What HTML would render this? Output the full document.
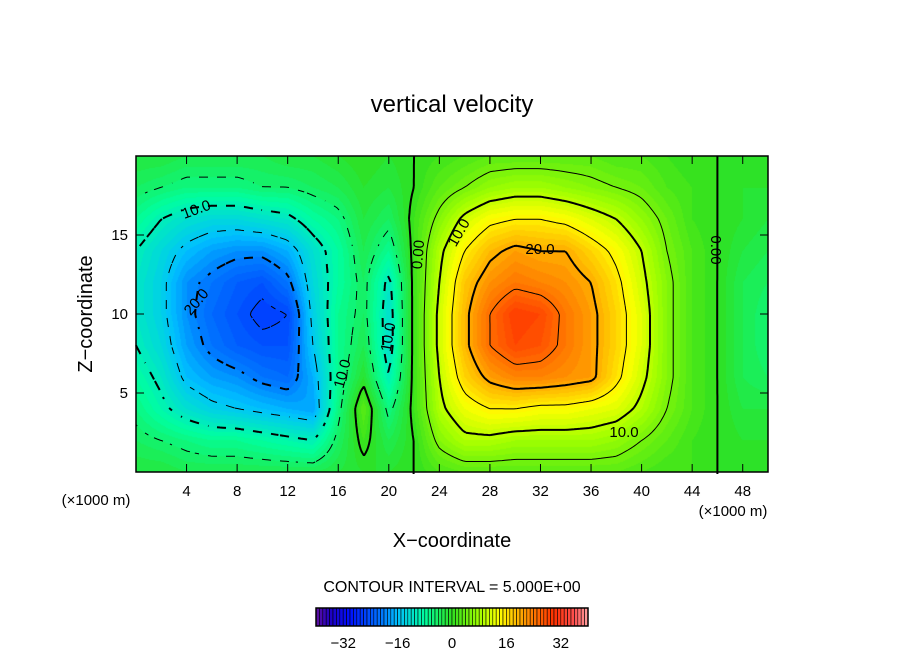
<!DOCTYPE html>
<html><head><meta charset="utf-8"><style>
body{margin:0;background:#fff;font-family:"Liberation Sans",sans-serif}
#wrap{position:relative;width:904px;height:654px}
canvas{position:absolute;left:136px;top:156px}
svg{position:absolute;left:0;top:0}
text{font-family:"Liberation Sans",sans-serif;fill:#000}
</style></head><body>
<div id="wrap">
<canvas id="cv" width="632" height="316"></canvas>
<svg id="sv" width="904" height="654">
<text x="452" y="112" text-anchor="middle" font-size="24">vertical velocity</text>
<text x="452" y="547" text-anchor="middle" font-size="20">X−coordinate</text>
<text transform="translate(92,314) rotate(-90)" text-anchor="middle" font-size="20">Z−coordinate</text>
<text x="96" y="505" text-anchor="middle" font-size="15">(×1000 m)</text>
<text x="733" y="516" text-anchor="middle" font-size="15">(×1000 m)</text>
<text x="452" y="592" text-anchor="middle" font-size="16">CONTOUR INTERVAL = 5.000E+00</text>
<g id="contours"></g>
<g font-size="15">
<text x="198" y="214" text-anchor="middle" transform="rotate(-20 198 214)">10.0</text>
<text x="200" y="305" text-anchor="middle" transform="rotate(-50 200 305)">20.0</text>
<text x="347" y="375" text-anchor="middle" transform="rotate(-75 347 375)">10.0</text>
<text x="393" y="338" text-anchor="middle" transform="rotate(-80 393 338)">10.0</text>
<text x="423" y="255" text-anchor="middle" transform="rotate(-85 423 255)">0.00</text>
<text x="463" y="235" text-anchor="middle" transform="rotate(-60 463 235)">10.0</text>
<text x="540" y="254" text-anchor="middle">20.0</text>
<text x="624" y="437" text-anchor="middle">10.0</text>
<text x="711" y="250" text-anchor="middle" transform="rotate(90 711 250)">0.00</text>
</g>
<g id="axes"></g>
<g id="cbar"></g>
</svg>
</div>
<script>
const xCoords=[0,2,4,6,8,10,12,14,16,18,20,22,24,26,28,30,32,34,36,38,40,42,44,46,48,50];
const zCoords=[0,2,4,6,8,10,12,14,16,18,20];
const wRows=[
[-2,-2,-3,-3,-3,-3,-3,-3,-2,-1,-1,0,2,3,3,3,3,3,3,3,2,1,1,0,-1,-1],
[-4,-5,-6,-7,-7,-8,-9,-10,-4,1,-3,0,6,9,9,8,8,8,8,7,5,3,1,0,-1,-1],
[-6,-9,-12,-14,-15,-16,-17,-18,-6,3,-6,1,9,13,15,15,14,14,13,12,9,5,2,0,-2,-2],
[-8,-11,-16,-18,-19,-21,-22,-17,-7,-1,-10,1,10,17,21,23,23,22,21,16,11,6,2,0,-3,-4],
[-10,-13,-18,-21,-23,-24,-24,-15,-7,-3,-12,1,11,19,25,28,27,24,21,17,12,6,2,0,-3,-5],
[-11,-14,-19,-22,-24,-26,-25,-14,-7,-4,-12,1,11,19,25,29,28,24,21,17,12,6,2,0,-3,-5],
[-11,-14,-19,-21,-23,-24,-21,-13,-8,-4,-11,1,10,18,22,24,23,22,20,16,11,6,2,0,-3,-4],
[-10,-13,-16,-18,-19,-19,-17,-12,-8,-3,-7,1,9,15,19,21,20,20,17,14,10,5,2,0,-2,-3],
[-7,-10,-12,-13,-13,-12,-11,-8,-6,-2,-4,1,6,11,14,15,15,14,12,10,7,4,1,0,-1,-2],
[-4,-5,-6,-6,-6,-5,-5,-4,-3,-1,-2,0,3,5,7,8,8,7,6,5,4,2,1,0,-1,-1],
[-2,-2,-3,-3,-3,-3,-2,-2,-1,0,-1,0,1,2,3,3,3,3,3,2,2,1,0,0,0,0]];
const xTicks=[4,8,12,16,20,24,28,32,36,40,44,48];
const zTicks=[5,10,15];
const cbTicks=[-32,-16,0,16,32];
const levels=[-25,-20,-15,-10,-5,0,5,10,15,20,25];

const PX=136,PY=156,PW=632,PH=316,XMAX=50,ZMAX=20;
const sx=x=>PX+x/XMAX*PW, sy=z=>PY+PH-z/ZMAX*PH;
const stops=[[-40,[96,16,160]],[-36,[32,0,192]],[-30,[0,16,255]],[-20,[0,128,255]],[-16,[0,192,255]],[-8,[0,255,160]],[0,[48,224,32]],[8,[160,255,0]],[14,[255,255,0]],[22,[255,144,0]],[30,[255,48,0]],[36,[255,80,80]],[40,[255,160,160]]];
function col(v){v=Math.max(-40,Math.min(40,v));v=Math.floor(v)+0.5;
 for(let i=0;i<stops.length-1;i++){const a=stops[i],b=stops[i+1];if(v<=b[0]){const t=(v-a[0])/(b[0]-a[0]);return a[1].map((c,k)=>Math.round(c+(b[1][k]-c)*t));}}
 return stops[stops.length-1][1];}
function val(x,z){const dx=xCoords[1]-xCoords[0],dz=zCoords[1]-zCoords[0];
 let fi=Math.min(Math.max(x/dx,0),xCoords.length-1.0001),fj=Math.min(Math.max(z/dz,0),zCoords.length-1.0001);
 const i=Math.floor(fi),j=Math.floor(fj),tx=fi-i,tz=fj-j;
 return wRows[j][i]*(1-tx)*(1-tz)+wRows[j][i+1]*tx*(1-tz)+wRows[j+1][i]*(1-tx)*tz+wRows[j+1][i+1]*tx*tz;}
const ctx=document.getElementById('cv').getContext('2d');
const img=ctx.createImageData(PW,PH);
for(let py=0;py<PH;py++)for(let px=0;px<PW;px++){const c=col(val((px+0.5)/PW*XMAX,(PH-py-0.5)/PH*ZMAX));const o=(py*PW+px)*4;img.data[o]=c[0];img.data[o+1]=c[1];img.data[o+2]=c[2];img.data[o+3]=255;}
ctx.putImageData(img,0,0);
const NS='http://www.w3.org/2000/svg';
function mk(t,a,p){const e=document.createElementNS(NS,t);for(const k in a)e.setAttribute(k,a[k]);p.appendChild(e);return e;}
const cg=document.getElementById('contours');const st=3;
levels.forEach(L=>{let d='';
 for(let py=0;py<PH;py+=st)for(let px=0;px<PW;px+=st){
  if(L<0 && ((Math.floor(px/9)+Math.floor(py/9))%2===0))continue;
  const X=[px,px+st,px+st,px],Y=[py,py,py+st,py+st];
  const V=X.map((xx,k)=>val(xx/PW*XMAX,(PH-Y[k])/PH*ZMAX));
  const pts=[];
  for(let k=0;k<4;k++){const a=V[k],b=V[(k+1)%4];if((a<L)!==(b<L)){const t=(L-a)/(b-a);pts.push([X[k]+(X[(k+1)%4]-X[k])*t,Y[k]+(Y[(k+1)%4]-Y[k])*t]);}}
  for(let k=0;k+1<pts.length;k+=2)d+=`M${(PX+pts[k][0]).toFixed(1)} ${(PY+pts[k][1]).toFixed(1)}L${(PX+pts[k+1][0]).toFixed(1)} ${(PY+pts[k+1][1]).toFixed(1)}`;}
 const p=mk('path',{d:d,fill:'none',stroke:'#000','stroke-width':(L%10===0)?2:1},cg);
 
 
});
const ag=document.getElementById('axes');
const fr=mk('rect',{x:PX,y:PY,width:PW,height:PH,fill:'none',stroke:'#000','stroke-width':1.5},ag);


xTicks.forEach(t=>{const x=sx(t);mk('line',{x1:x,x2:x,y1:PY+PH,y2:PY+PH-8,stroke:'#000'},ag);mk('line',{x1:x,x2:x,y1:PY,y2:PY+8,stroke:'#000'},ag);
 const tx=mk('text',{x:x,y:PY+PH+24,'text-anchor':'middle','font-size':15},ag);tx.textContent=t;
 
 });
zTicks.forEach(t=>{const y=sy(t);mk('line',{x1:PX,x2:PX+8,y1:y,y2:y,stroke:'#000'},ag);mk('line',{x1:PX+PW,x2:PX+PW-8,y1:y,y2:y,stroke:'#000'},ag);
 const tx=mk('text',{x:PX-8,y:y+5,'text-anchor':'end','font-size':15},ag);tx.textContent=t;
 
 });
const cb=document.getElementById('cbar');const CX=316,CY=608,CW=272,CH=18;
for(let v=-40;v<40;v++){const x=CX+(v+40)/80*CW;const c=col(v);
 const r=mk('rect',{x:x,y:CY,width:CW/80,height:CH,fill:`rgb(${c})`,stroke:'#000','stroke-width':0.6},cb);
 
 }
mk('rect',{x:CX,y:CY,width:CW,height:CH,fill:'none',stroke:'#000','stroke-width':1.5},cb);
cbTicks.forEach(t=>{const tx=mk('text',{x:CX+(t+40)/80*CW,y:648,'text-anchor':'middle','font-size':15},cb);tx.textContent=t<0?'−'+(-t):t;
 
 });
</script>
</body></html>
